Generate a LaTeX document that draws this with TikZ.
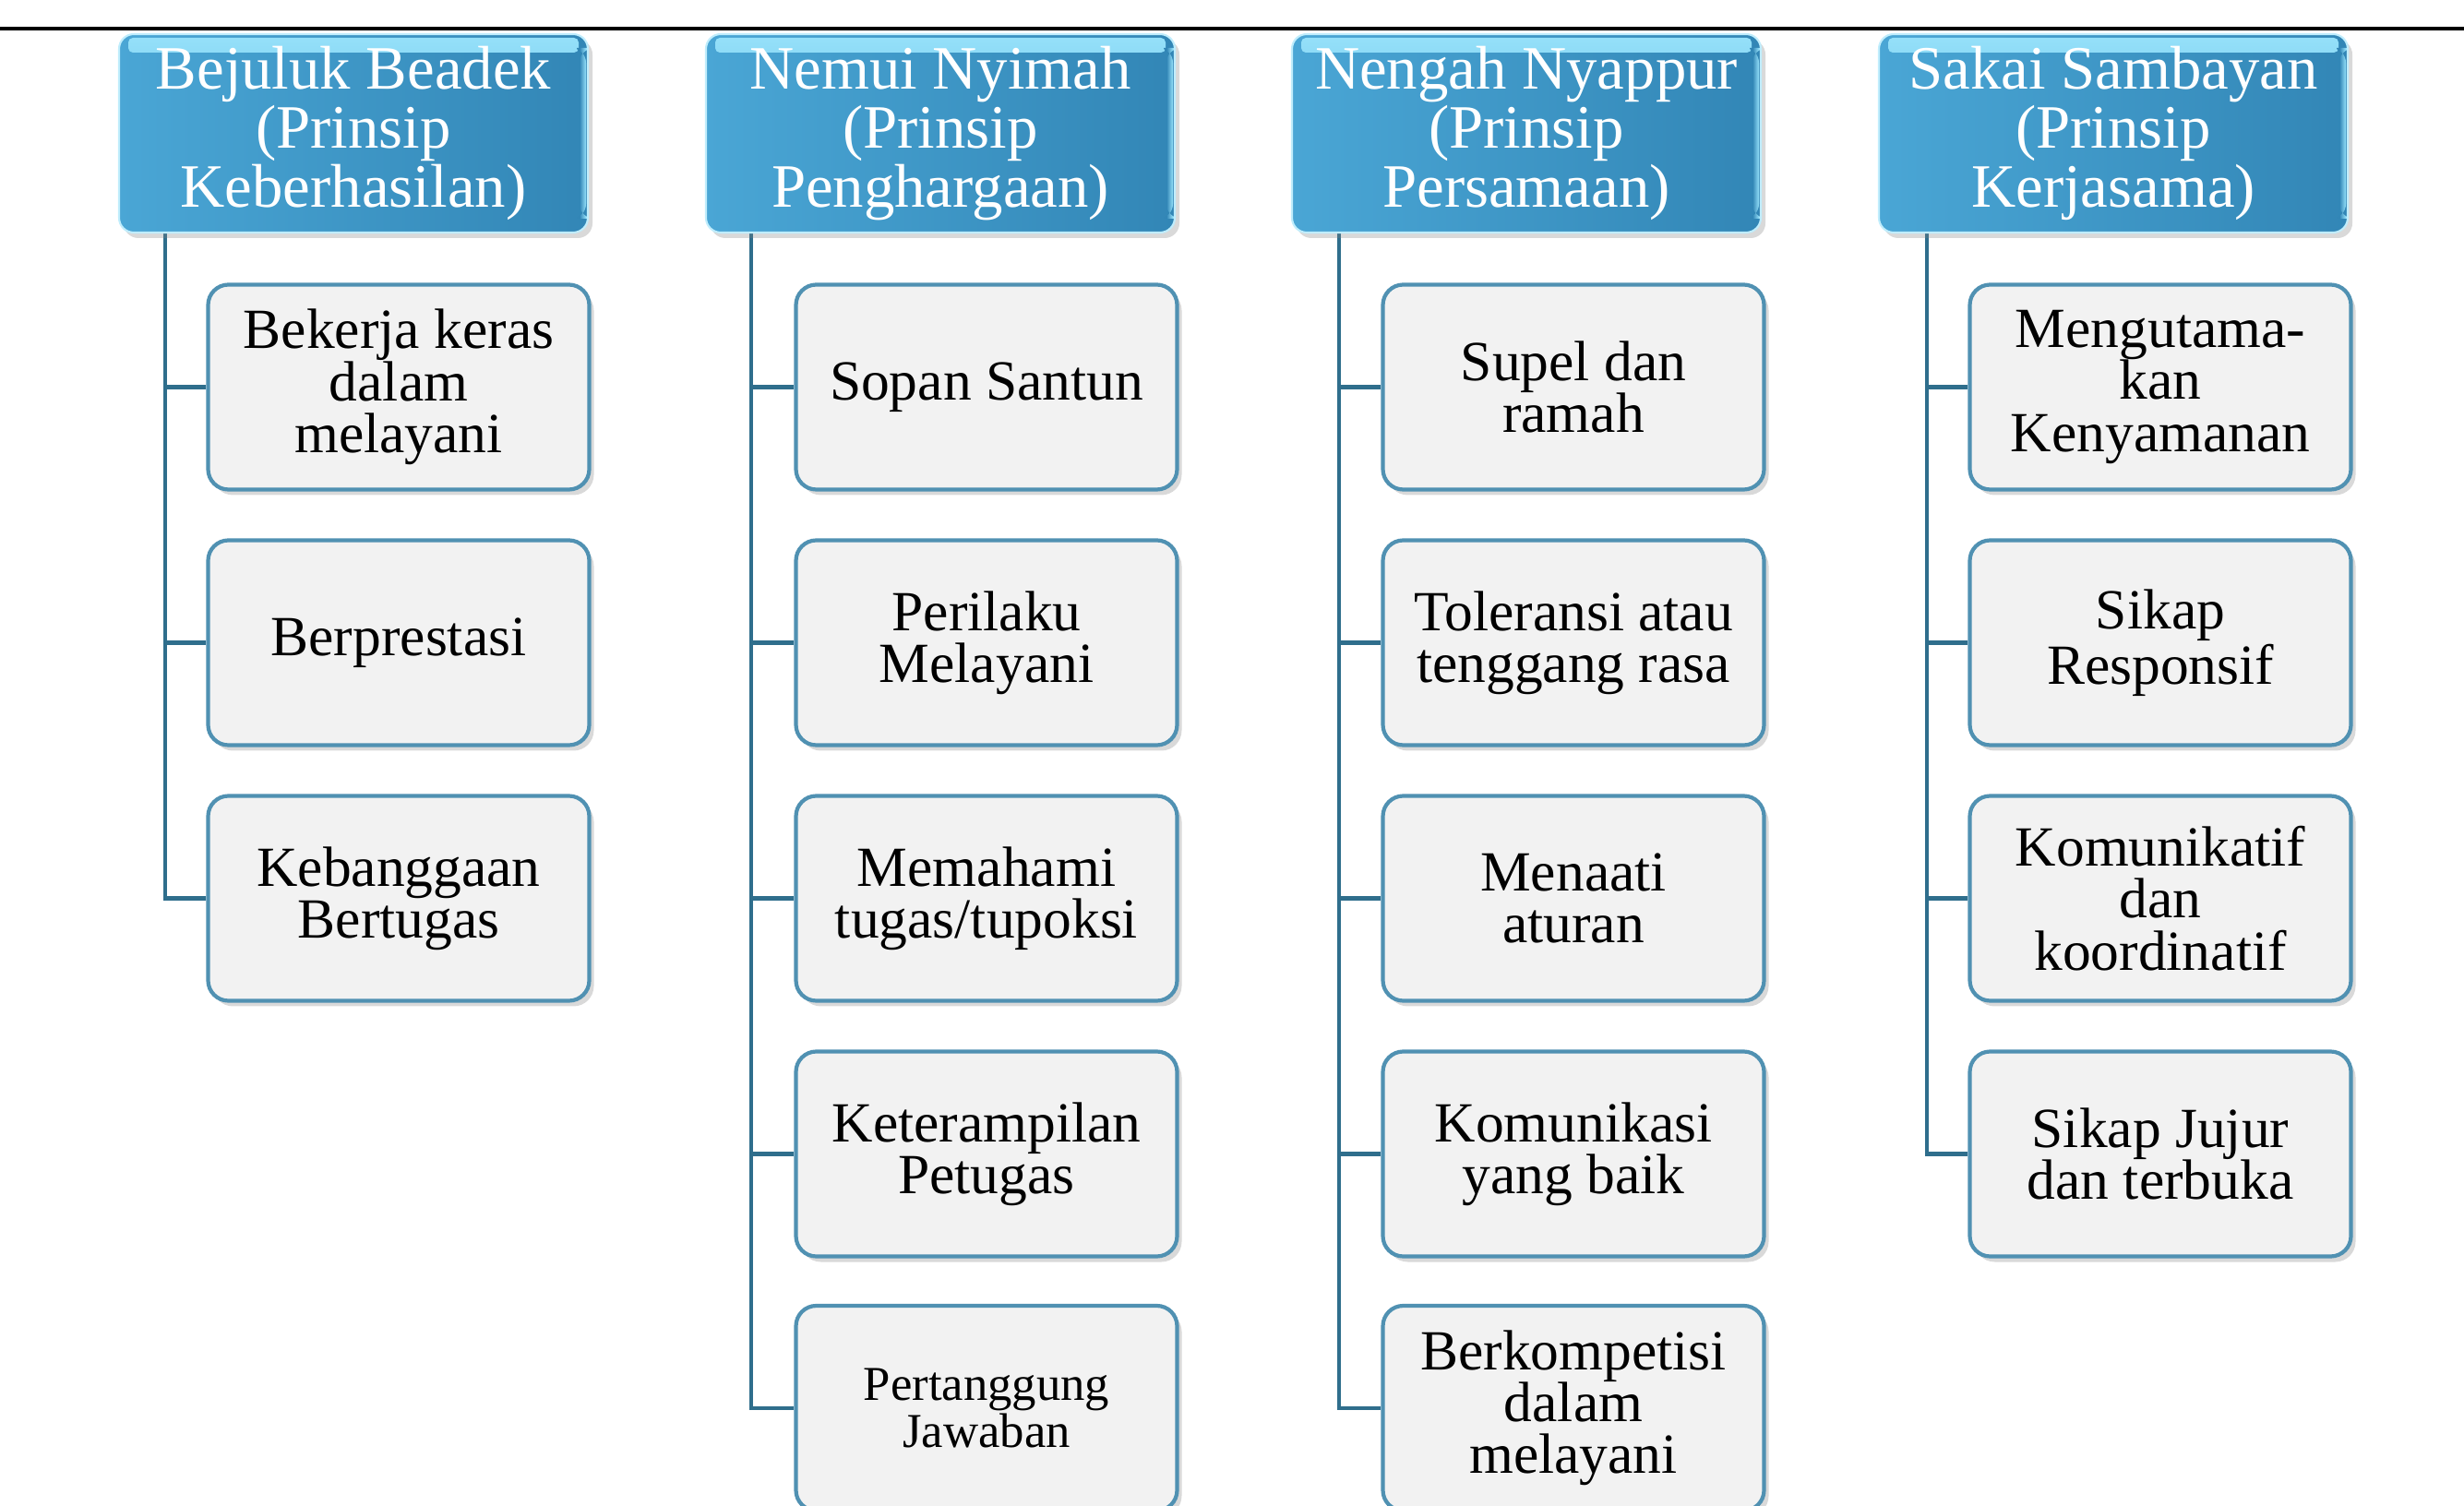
\documentclass[tikz,border=0pt]{standalone}
\usepackage{fontspec}
\setmainfont{Liberation Serif}
\usetikzlibrary{shadows,backgrounds}
\definecolor{linec}{RGB}{47,110,140}
\definecolor{boxborder}{RGB}{80,145,178}
\definecolor{boxfill}{RGB}{242,242,242}
\definecolor{headleft}{RGB}{74,166,213}
\definecolor{headright}{RGB}{50,134,182}
\definecolor{headhl}{RGB}{150,225,250}
\tikzset{
  head/.style={rounded corners=0.16cm, minimum width=5.08cm, minimum height=2.15cm,
    left color=headleft, right color=headright, draw=headhl!60!white, line width=0.6pt,
    text=white, align=center, font=\fontsize{19}{17}\selectfont, inner sep=0pt,
    drop shadow={shadow xshift=0.05cm, shadow yshift=-0.06cm, opacity=0.3},
    path picture={
      \shade[top color=headhl, bottom color=headleft, rounded corners=0.05cm]
        ([xshift=0.1cm,yshift=-0.04cm]path picture bounding box.north west)
        rectangle ([xshift=-0.1cm,yshift=-0.2cm]path picture bounding box.north east);
      \shade[left color=headright, right color=headhl]
        ([xshift=-0.09cm,yshift=-0.15cm]path picture bounding box.north east)
        rectangle ([xshift=-0.02cm,yshift=0.15cm]path picture bounding box.south east);
    }},
  leaf/.style={rounded corners=0.22cm, minimum width=4.13cm, minimum height=2.22cm,
    fill=boxfill, draw=boxborder, line width=1.2pt, align=center,
    font=\fontsize{17.5}{16}\selectfont, inner sep=0pt,
    drop shadow={shadow xshift=0.05cm, shadow yshift=-0.06cm, opacity=0.3}},
  conn/.style={draw=linec, line width=1.3pt}
}
\begin{document}
\begin{tikzpicture}
\useasboundingbox (0,0) rectangle (26.70,-16.32);
\draw[line width=1.1pt] (0,-0.31) -- (26.70,-0.31);

% headers
\node[head] (h1) at (3.83,-1.445) {Bejuluk Beadek\\(Prinsip\\Keberhasilan)};
\node[head] (h2) at (10.19,-1.445) {Nemui Nyimah\\(Prinsip\\Penghargaan)};
\node[head] (h3) at (16.54,-1.445) {Nengah Nyappur\\(Prinsip\\Persamaan)};
\node[head] (h4) at (22.90,-1.445) {Sakai Sambayan\\(Prinsip\\Kerjasama)};

% column 1
\node[leaf] (c11) at (4.32,-4.195) {Bekerja keras\\dalam\\melayani};
\node[leaf] (c12) at (4.32,-6.965) {Berprestasi};
\node[leaf] (c13) at (4.32,-9.735) {Kebanggaan\\Bertugas};

% column 2
\node[leaf] (c21) at (10.69,-4.195) {Sopan Santun};
\node[leaf] (c22) at (10.69,-6.965) {Perilaku\\Melayani};
\node[leaf] (c23) at (10.69,-9.735) {Memahami\\tugas/tupoksi};
\node[leaf] (c24) at (10.69,-12.505) {Keterampilan\\Petugas};
\node[leaf, font=\fontsize{15}{13.6}\selectfont] (c25) at (10.69,-15.26) {Pertanggung\\Jawaban};

% column 3
\node[leaf] (c31) at (17.05,-4.195) {Supel dan\\ramah};
\node[leaf] (c32) at (17.05,-6.965) {Toleransi atau\\tenggang rasa};
\node[leaf] (c33) at (17.05,-9.735) {Menaati\\aturan};
\node[leaf] (c34) at (17.05,-12.505) {Komunikasi\\yang baik};
\node[leaf] (c35) at (17.05,-15.26) {Berkompetisi\\dalam\\melayani};

% column 4
\node[leaf] (c41) at (23.41,-4.195) {Mengutama-\\kan\\Kenyamanan};
\node[leaf] (c42) at (23.41,-6.965) {Sikap\\Responsif};
\node[leaf] (c43) at (23.41,-9.735) {Komunikatif\\dan\\koordinatif};
\node[leaf] (c44) at (23.41,-12.505) {Sikap Jujur\\dan terbuka};

% trunk tops
\coordinate (t1) at (1.79,-2.52);
\coordinate (t2) at (8.14,-2.52);
\coordinate (t3) at (14.51,-2.52);
\coordinate (t4) at (20.88,-2.52);

\begin{scope}[on background layer]
\draw[conn] (t1) |- (c13.west);
\draw[conn] (t1 |- c11.west) -- (c11.west);
\draw[conn] (t1 |- c12.west) -- (c12.west);

\draw[conn] (t2) |- (c25.west);
\draw[conn] (t2 |- c21.west) -- (c21.west);
\draw[conn] (t2 |- c22.west) -- (c22.west);
\draw[conn] (t2 |- c23.west) -- (c23.west);
\draw[conn] (t2 |- c24.west) -- (c24.west);

\draw[conn] (t3) |- (c35.west);
\draw[conn] (t3 |- c31.west) -- (c31.west);
\draw[conn] (t3 |- c32.west) -- (c32.west);
\draw[conn] (t3 |- c33.west) -- (c33.west);
\draw[conn] (t3 |- c34.west) -- (c34.west);

\draw[conn] (t4) |- (c44.west);
\draw[conn] (t4 |- c41.west) -- (c41.west);
\draw[conn] (t4 |- c42.west) -- (c42.west);
\draw[conn] (t4 |- c43.west) -- (c43.west);
\end{scope}
\end{tikzpicture}
\end{document}
